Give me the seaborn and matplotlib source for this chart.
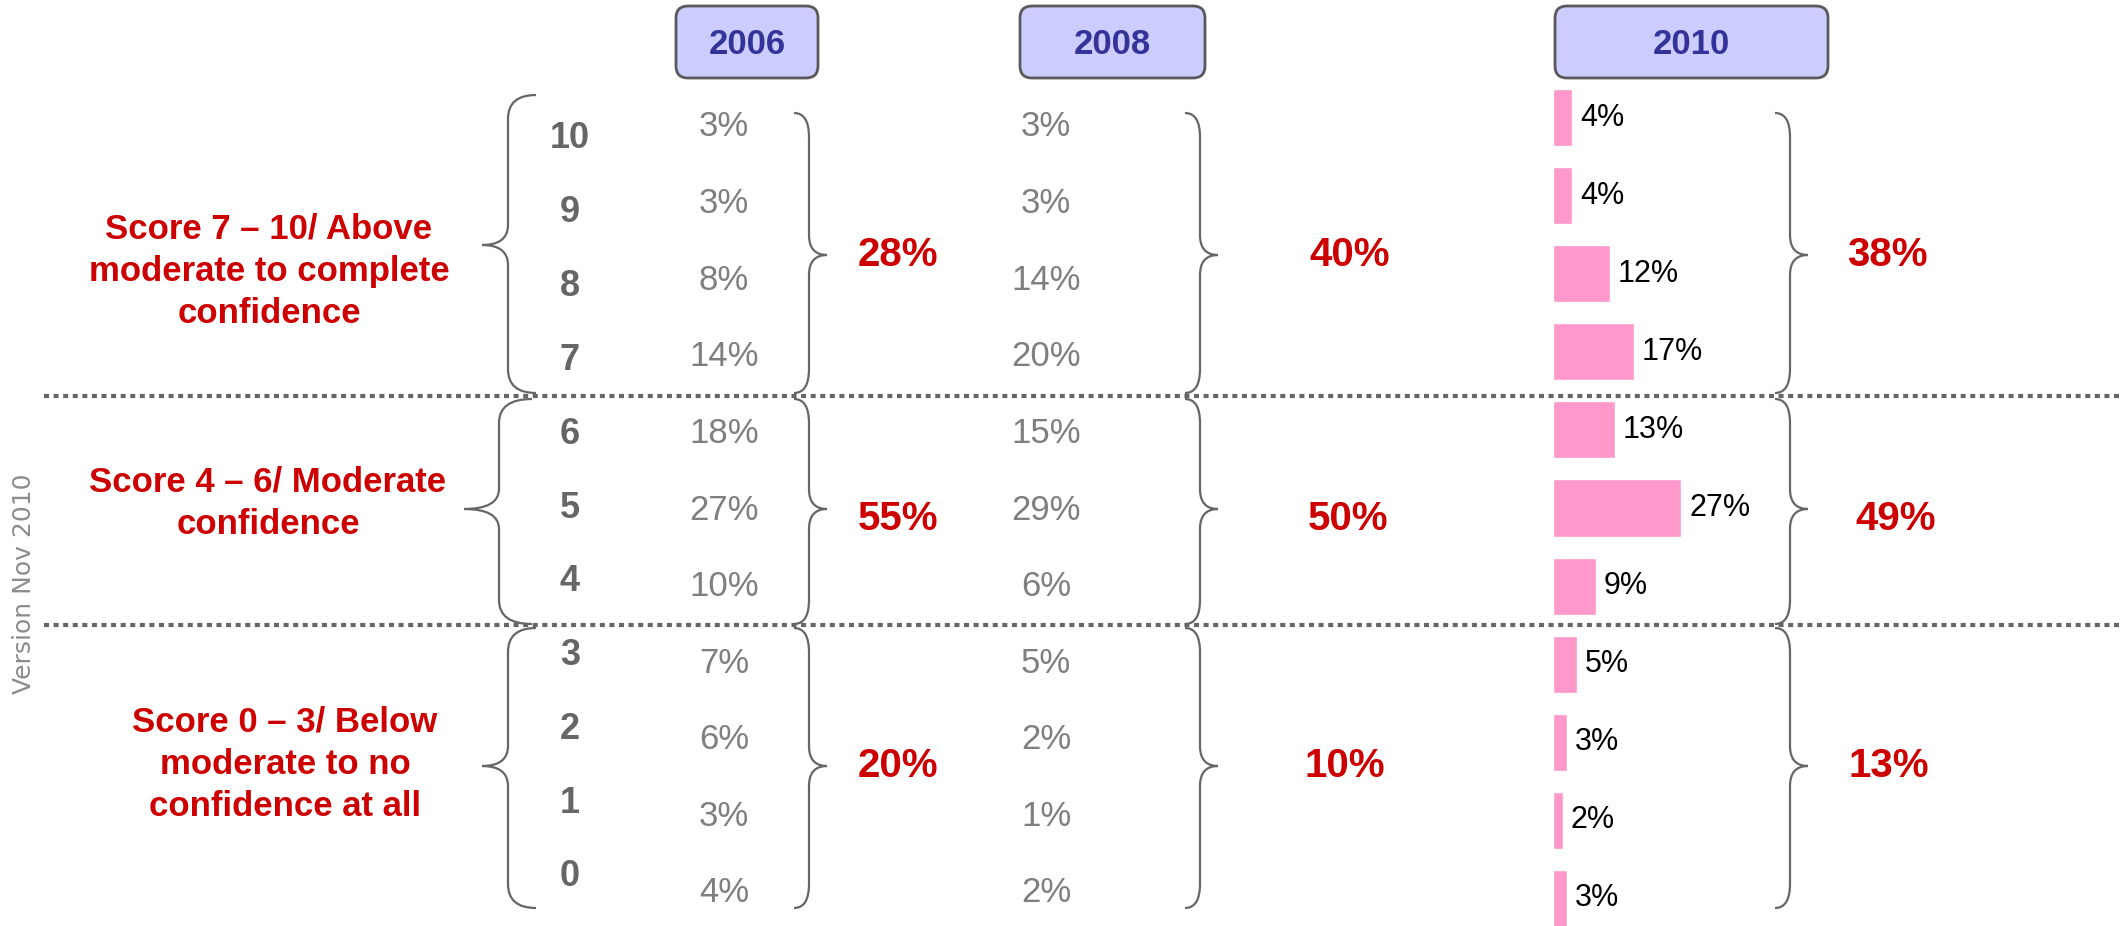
import pandas as pd
import matplotlib.pyplot as plt
import seaborn as sns
from matplotlib.path import Path
from matplotlib.patches import PathPatch, FancyBboxPatch

# data
scores = ['10', '9', '8', '7', '6', '5', '4', '3', '2', '1', '0']
pct_2006 = [3, 3, 8, 14, 18, 27, 10, 7, 6, 3, 4]
pct_2008 = [3, 3, 14, 20, 15, 29, 6, 5, 2, 1, 2]
pct_2010 = [4, 4, 12, 17, 13, 27, 9, 5, 3, 2, 3]

years = ['2006', '2008', '2010']
group_labels = ['Score 7 – 10/ Above\nmoderate to complete\nconfidence',
                'Score 4 – 6/ Moderate\nconfidence',
                'Score 0 – 3/ Below\nmoderate to no\nconfidence at all']
group_2006 = [28, 55, 20]
group_2008 = [40, 50, 10]
group_2010 = [38, 49, 13]

W, H = 2121, 926
sns.set_theme(style='white')
plt.rcParams['font.family'] = ['Liberation Sans', 'DejaVu Sans']

RED = '#CC0000'
GREY = '#666666'

fig = plt.figure(figsize=(W / 100, H / 100), dpi=100)
fig.patch.set_facecolor('white')

# overlay in pixel units for the slide furniture
ov = fig.add_axes([0, 0, 1, 1])
ov.set_xlim(0, W)
ov.set_ylim(H, 0)
ov.axis('off')


def brace(x, y0, y1, ytip, d, rx, k):
    # k = 1 -> '}' , k = -1 -> '{'
    tipx = x + k * d
    ex = x - k * rx
    r = 24
    verts = [(ex, y0), (x, y0), (x, y0 + r),
             (x, ytip - 20), (x, ytip), (tipx, ytip),
             (x, ytip), (x, ytip + 20),
             (x, y1 - r), (x, y1), (ex, y1)]
    codes = [Path.MOVETO, Path.CURVE3, Path.CURVE3,
             Path.LINETO, Path.CURVE3, Path.CURVE3,
             Path.CURVE3, Path.CURVE3,
             Path.LINETO, Path.CURVE3, Path.CURVE3]
    ov.add_patch(PathPatch(Path(verts, codes), fill=False, ec=GREY, lw=1.6))


# group extents (pixels)
g_top = [113, 399, 628]
g_bot = [393, 624, 908]
g_tip = [255, 509, 766]

# left braces
brace(508, 95, 393, 245, 26, 28, -1)
brace(499, 399, 624, 509, 35, 33, -1)
brace(508, 628, 908, 766, 26, 28, -1)
for bx in [809, 1200, 1790]:
    for t, b, tp in zip(g_top, g_bot, g_tip):
        brace(bx, t, b, tp, 18, 15, 1)

# dotted separators
for yy in [396, 625]:
    ov.plot([44, W], [yy, yy], color=GREY, lw=3, linestyle=(0, (1.2, 1.1)),
            dash_capstyle='butt')

# year header boxes
boxes = [(676, 818), (1020, 1205), (1555, 1828)]
for (x0, x1), yr in zip(boxes, years):
    ov.add_patch(FancyBboxPatch((x0 + 12, 6 + 12), x1 - x0 - 24, 72 - 24,
                                boxstyle='round,pad=12', fc='#CCCCFF', ec='#595959', lw=2))
    ov.text((x0 + x1) / 2, 44, yr, ha='center', va='center', fontsize=25,
            fontweight='bold', color='#333399')

# side note
ov.text(24, 584, 'Version Nov 2010', rotation=90, ha='center', va='center',
        fontsize=18, color='#8c8c8c', family='DejaVu Sans')

# group labels on the left
for lab, xc, yc in zip(group_labels, [269, 268, 285], [271, 503, 764]):
    ov.text(xc, yc, lab, ha='center', va='center', fontsize=25, fontweight='bold',
            color=RED, linespacing=1.35, multialignment='center')

# score numbers and the 2006 / 2008 columns
for i, s in enumerate(scores):
    ov.text(570, 139 + 73.8 * i, s, ha='center', va='center', fontsize=26,
            fontweight='bold', color=GREY)
    ov.text(724, 127 + 76.6 * i, f'{pct_2006[i]}%', ha='center', va='center',
            fontsize=25, color='#7f7f7f')
    ov.text(1046, 127 + 76.6 * i, f'{pct_2008[i]}%', ha='center', va='center',
            fontsize=25, color='#7f7f7f')

# group totals
big_y = [255, 519, 766]
for xs, vals in zip([[898] * 3, [1350, 1348, 1345], [1887, 1896, 1889]],
                    [group_2006, group_2008, group_2010]):
    for xx, yy, v in zip(xs, big_y, vals):
        ov.text(xx, yy, f'{v}%', ha='center', va='center', fontsize=29,
                fontweight='bold', color=RED)

# 2010 bars
row_top, row_step = 117.5, 78.1
ax_top = row_top - row_step / 2
ax_h = row_step * len(scores)
ax = fig.add_axes([1553 / W, 1 - (ax_top + ax_h) / H, 4.75 * 30 / W, ax_h / H])
df = pd.DataFrame({'score': scores, 'pct': pct_2010})
sns.barplot(data=df, x='pct', y='score', order=scores, color='#FF99CC',
            saturation=1, width=0.73, ax=ax)
ax.set_xlim(0, 30)
ax.set_ylim(len(scores) - 0.5, -0.5)
ax.axis('off')
for i, v in enumerate(pct_2010):
    ax.annotate(f'{v}%', (v, i), xytext=(8, 0), textcoords='offset pixels',
                ha='left', va='center', fontsize=22, color='black',
                annotation_clip=False)

fig.savefig('out.png', dpi=100, facecolor='white')
